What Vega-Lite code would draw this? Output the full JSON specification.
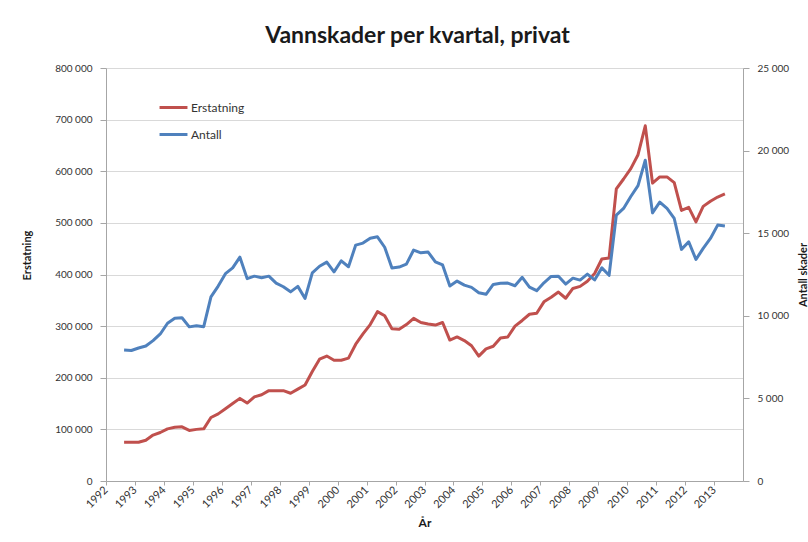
{
  "$schema": "https://vega.github.io/schema/vega-lite/v6.json",
  "width": 637,
  "height": 413,
  "autosize": "none",
  "padding": {"left": 106, "top": 68, "right": 65, "bottom": 61},
  "background": "white",
  "title": {
    "text": "Vannskader per kvartal, privat",
    "font": "Lato",
    "fontSize": 23,
    "fontWeight": "bold",
    "color": "#1a1a1a",
    "anchor": "middle",
    "dx": -7,
    "offset": 15
  },
  "config": {
    "view": {"stroke": null},
    "font": "Lato"
  },
  "data": {
    "values": [
      {"t": 1992.625, "Erstatning": 75000, "Antall": 7930},
      {"t": 1992.875, "Erstatning": 75000, "Antall": 7900},
      {"t": 1993.125, "Erstatning": 75000, "Antall": 8050},
      {"t": 1993.375, "Erstatning": 79000, "Antall": 8170},
      {"t": 1993.625, "Erstatning": 89000, "Antall": 8500},
      {"t": 1993.875, "Erstatning": 94000, "Antall": 8900},
      {"t": 1994.125, "Erstatning": 101000, "Antall": 9550},
      {"t": 1994.375, "Erstatning": 104000, "Antall": 9850},
      {"t": 1994.625, "Erstatning": 105000, "Antall": 9880},
      {"t": 1994.875, "Erstatning": 98000, "Antall": 9330},
      {"t": 1995.125, "Erstatning": 100000, "Antall": 9400},
      {"t": 1995.375, "Erstatning": 101000, "Antall": 9340},
      {"t": 1995.625, "Erstatning": 123000, "Antall": 11150},
      {"t": 1995.875, "Erstatning": 130000, "Antall": 11800},
      {"t": 1996.125, "Erstatning": 140000, "Antall": 12550},
      {"t": 1996.375, "Erstatning": 150000, "Antall": 12900},
      {"t": 1996.625, "Erstatning": 160000, "Antall": 13550},
      {"t": 1996.875, "Erstatning": 151000, "Antall": 12250},
      {"t": 1997.125, "Erstatning": 163000, "Antall": 12400},
      {"t": 1997.375, "Erstatning": 167000, "Antall": 12300},
      {"t": 1997.625, "Erstatning": 175000, "Antall": 12400},
      {"t": 1997.875, "Erstatning": 175000, "Antall": 11980},
      {"t": 1998.125, "Erstatning": 175000, "Antall": 11760},
      {"t": 1998.375, "Erstatning": 170000, "Antall": 11450},
      {"t": 1998.625, "Erstatning": 178000, "Antall": 11780},
      {"t": 1998.875, "Erstatning": 186000, "Antall": 11050},
      {"t": 1999.125, "Erstatning": 212000, "Antall": 12600},
      {"t": 1999.375, "Erstatning": 236000, "Antall": 13000},
      {"t": 1999.625, "Erstatning": 242000, "Antall": 13250},
      {"t": 1999.875, "Erstatning": 234000, "Antall": 12660},
      {"t": 2000.125, "Erstatning": 234000, "Antall": 13330},
      {"t": 2000.375, "Erstatning": 238000, "Antall": 12970},
      {"t": 2000.625, "Erstatning": 265000, "Antall": 14280},
      {"t": 2000.875, "Erstatning": 285000, "Antall": 14400},
      {"t": 2001.125, "Erstatning": 303000, "Antall": 14700},
      {"t": 2001.375, "Erstatning": 328000, "Antall": 14780},
      {"t": 2001.625, "Erstatning": 320000, "Antall": 14150},
      {"t": 2001.875, "Erstatning": 295000, "Antall": 12900},
      {"t": 2002.125, "Erstatning": 294000, "Antall": 12950},
      {"t": 2002.375, "Erstatning": 303000, "Antall": 13130},
      {"t": 2002.625, "Erstatning": 315000, "Antall": 13980},
      {"t": 2002.875, "Erstatning": 307000, "Antall": 13810},
      {"t": 2003.125, "Erstatning": 304000, "Antall": 13860},
      {"t": 2003.375, "Erstatning": 302000, "Antall": 13270},
      {"t": 2003.625, "Erstatning": 307000, "Antall": 13080},
      {"t": 2003.875, "Erstatning": 273000, "Antall": 11800},
      {"t": 2004.125, "Erstatning": 279000, "Antall": 12100},
      {"t": 2004.375, "Erstatning": 272000, "Antall": 11860},
      {"t": 2004.625, "Erstatning": 262000, "Antall": 11720},
      {"t": 2004.875, "Erstatning": 242000, "Antall": 11400},
      {"t": 2005.125, "Erstatning": 256000, "Antall": 11300},
      {"t": 2005.375, "Erstatning": 261000, "Antall": 11900},
      {"t": 2005.625, "Erstatning": 277000, "Antall": 11970},
      {"t": 2005.875, "Erstatning": 279000, "Antall": 11980},
      {"t": 2006.125, "Erstatning": 300000, "Antall": 11820},
      {"t": 2006.375, "Erstatning": 311000, "Antall": 12330},
      {"t": 2006.625, "Erstatning": 323000, "Antall": 11740},
      {"t": 2006.875, "Erstatning": 325000, "Antall": 11520},
      {"t": 2007.125, "Erstatning": 347000, "Antall": 12000},
      {"t": 2007.375, "Erstatning": 356000, "Antall": 12380},
      {"t": 2007.625, "Erstatning": 366000, "Antall": 12400},
      {"t": 2007.875, "Erstatning": 354000, "Antall": 11920},
      {"t": 2008.125, "Erstatning": 373000, "Antall": 12280},
      {"t": 2008.375, "Erstatning": 377000, "Antall": 12160},
      {"t": 2008.625, "Erstatning": 387000, "Antall": 12520},
      {"t": 2008.875, "Erstatning": 402000, "Antall": 12170},
      {"t": 2009.125, "Erstatning": 430000, "Antall": 12900},
      {"t": 2009.375, "Erstatning": 432000, "Antall": 12450},
      {"t": 2009.625, "Erstatning": 566000, "Antall": 16090},
      {"t": 2009.875, "Erstatning": 585000, "Antall": 16500},
      {"t": 2010.125, "Erstatning": 605000, "Antall": 17220},
      {"t": 2010.375, "Erstatning": 632000, "Antall": 17880},
      {"t": 2010.625, "Erstatning": 688000, "Antall": 19420},
      {"t": 2010.875, "Erstatning": 577000, "Antall": 16230},
      {"t": 2011.125, "Erstatning": 589000, "Antall": 16880},
      {"t": 2011.375, "Erstatning": 589000, "Antall": 16500},
      {"t": 2011.625, "Erstatning": 578000, "Antall": 15890},
      {"t": 2011.875, "Erstatning": 524000, "Antall": 14020},
      {"t": 2012.125, "Erstatning": 530000, "Antall": 14480},
      {"t": 2012.375, "Erstatning": 502000, "Antall": 13410},
      {"t": 2012.625, "Erstatning": 532000, "Antall": 14080},
      {"t": 2012.875, "Erstatning": 542000, "Antall": 14680},
      {"t": 2013.125, "Erstatning": 550000, "Antall": 15490},
      {"t": 2013.375, "Erstatning": 556000, "Antall": 15430}
    ]
  },
  "encoding": {
    "x": {
      "field": "t",
      "type": "quantitative",
      "scale": {"domain": [1992, 2014], "nice": false, "zero": false},
      "axis": {
        "title": "År",
        "titleFont": "Lato",
        "titleFontSize": 12,
        "titleFontWeight": "bold",
        "titleColor": "#1a1a1a",
        "titlePadding": 8,
        "values": [1992, 1993, 1994, 1995, 1996, 1997, 1998, 1999, 2000, 2001, 2002, 2003, 2004, 2005, 2006, 2007, 2008, 2009, 2010, 2011, 2012, 2013],
        "format": "d",
        "labelAngle": -45,
        "labelAlign": "right",
        "labelBaseline": "middle",
        "labelFontSize": 11,
        "labelColor": "#333333",
        "labelPadding": 3,
        "labelOverlap": false,
        "labelFlush": false,
        "grid": false,
        "tickSize": 4,
        "tickColor": "#a6a6a6",
        "domainColor": "#a6a6a6"
      }
    }
  },
  "layer": [
    {
      "mark": {"type": "line", "strokeWidth": 3, "strokeJoin": "round", "interpolate": "linear"},
      "encoding": {
        "y": {
          "field": "Erstatning",
          "type": "quantitative",
          "scale": {"domain": [0, 800000], "nice": false},
          "axis": {
            "title": "Erstatning",
            "titleFont": "Lato",
            "titleFontSize": 11,
            "titleFontWeight": "bold",
            "titleColor": "#1a1a1a",
            "titleY": 187,
            "titlePadding": 22,
            "values": [0, 100000, 200000, 300000, 400000, 500000, 600000, 700000, 800000],
            "labelExpr": "replace(format(datum.value, ','), ',', ' ')",
            "labelFontSize": 10,
            "labelColor": "#333333",
            "labelPadding": 8,
            "tickSize": 6,
            "tickColor": "#a6a6a6",
            "domainColor": "#a6a6a6",
            "grid": true,
            "gridColor": "#d9d9d9",
            "gridWidth": 1
          }
        },
        "color": {
          "datum": "Erstatning",
          "type": "nominal",
          "scale": {"domain": ["Erstatning", "Antall"], "range": ["#c0504d", "#4f81bd"]},
          "legend": {
            "title": null,
            "orient": "none",
            "legendX": 52,
            "legendY": 24,
            "symbolType": "stroke",
            "symbolSize": 780,
            "symbolStrokeWidth": 3,
            "labelFont": "Lato",
            "labelFontSize": 12,
            "labelColor": "#333333",
            "labelOffset": 2,
            "rowPadding": 5
          }
        }
      }
    },
    {
      "mark": {"type": "line", "strokeWidth": 3, "strokeJoin": "round", "interpolate": "linear"},
      "encoding": {
        "y": {
          "field": "Antall",
          "type": "quantitative",
          "scale": {"domain": [0, 25000], "nice": false},
          "axis": {
            "orient": "right",
            "title": "Antall skader",
            "titleFont": "Lato",
            "titleFontSize": 11,
            "titleFontWeight": "bold",
            "titleColor": "#1a1a1a",
            "titleAngle": 270,
            "titlePadding": 20,
            "values": [0, 5000, 10000, 15000, 20000, 25000],
            "labelExpr": "replace(format(datum.value, ','), ',', ' ')",
            "labelFontSize": 10,
            "labelColor": "#333333",
            "labelPadding": 8,
            "tickSize": 6,
            "tickColor": "#a6a6a6",
            "domainColor": "#a6a6a6",
            "grid": false
          }
        },
        "color": {
          "datum": "Antall",
          "type": "nominal"
        }
      }
    }
  ],
  "resolve": {"scale": {"y": "independent"}}
}
